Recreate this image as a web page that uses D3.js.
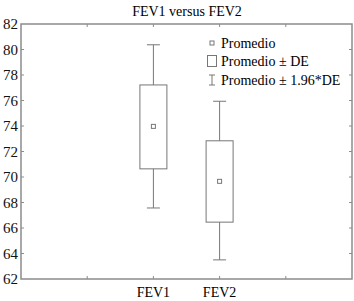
<!DOCTYPE html>
<html>
<head>
<meta charset="utf-8">
<script src="https://cdn.jsdelivr.net/npm/d3@7"></script>
<style>
  body { margin: 0; background: #fff; }
  svg text { font-family: 'Liberation Serif', 'Times New Roman', 'DejaVu Serif', serif; }
</style>
</head>
<body>
<div id="chart-area"></div>
<script>
// data
const categories = ['FEV1', 'FEV2'];
const means = [73.97, 69.66];
const sdLow = [70.64, 66.46];
const sdHigh = [77.22, 72.84];
const ciLow = [67.57, 63.5];
const ciHigh = [80.37, 75.94];
const yTicks = [62, 64, 66, 68, 70, 72, 74, 76, 78, 80, 82];
const legendLabels = ['Promedio', 'Promedio \u00b1 DE', 'Promedio \u00b1 1.96*DE'];

const W = 354, H = 301;
const margin = {left: 21, right: 2, top: 24, bottom: 22};
const width = W - margin.left - margin.right;
const height = H - margin.top - margin.bottom;
const gray = '#8c8c8c';

const svg = d3.select('#chart-area')
  .append('svg')
  .attr('width', W)
  .attr('height', H);

const g = svg.append('g')
  .attr('transform', `translate(${margin.left}, ${margin.top})`);

// scales
const x = d3.scaleLinear().domain([0, categories.length + 3]).range([0, width]);
const pos = i => x(i + 2);
const y = d3.scaleLinear().domain([62, 82]).range([height, 0]);

// title
svg.append('text')
  .attr('x', 187)
  .attr('y', 16)
  .attr('text-anchor', 'middle')
  .attr('font-size', '14px')
  .attr('fill', '#000')
  .text('FEV1 versus FEV2');

// frame
g.append('rect')
  .attr('width', width)
  .attr('height', height)
  .attr('fill', 'none')
  .attr('stroke', gray)
  .attr('stroke-width', 1.5);

// inward ticks
const xt = [1, 2, 3, 4];
g.selectAll('.xt-b').data(xt).enter().append('line')
  .attr('x1', d => x(d)).attr('x2', d => x(d))
  .attr('y1', height).attr('y2', height - 3)
  .attr('stroke', gray);
g.selectAll('.xt-t').data(xt).enter().append('line')
  .attr('x1', d => x(d)).attr('x2', d => x(d))
  .attr('y1', 0).attr('y2', 3)
  .attr('stroke', gray);
g.selectAll('.yt-l').data(yTicks.slice(1, -1)).enter().append('line')
  .attr('x1', 0).attr('x2', 3)
  .attr('y1', d => y(d)).attr('y2', d => y(d))
  .attr('stroke', gray);
g.selectAll('.yt-r').data(yTicks.slice(1, -1)).enter().append('line')
  .attr('x1', width).attr('x2', width - 3)
  .attr('y1', d => y(d)).attr('y2', d => y(d))
  .attr('stroke', gray);

// y labels
g.selectAll('.ylab').data(yTicks).enter().append('text')
  .attr('x', -3)
  .attr('y', d => y(d))
  .attr('dy', '0.35em')
  .attr('text-anchor', 'end')
  .attr('font-size', '15px')
  .attr('fill', '#111')
  .text(d => d);

// x labels
g.selectAll('.xlab').data(categories).enter().append('text')
  .attr('x', (d, i) => pos(i))
  .attr('y', height + 18)
  .attr('text-anchor', 'middle')
  .attr('font-size', '14px')
  .attr('fill', '#000')
  .text(d => d);

// boxes
const boxW = 27, capW = 13, mk = 4;
const line = '#777';
categories.forEach((c, i) => {
  const cx = pos(i);
  // whiskers
  g.append('line')
    .attr('x1', cx).attr('x2', cx)
    .attr('y1', y(ciHigh[i])).attr('y2', y(sdHigh[i]))
    .attr('stroke', line);
  g.append('line')
    .attr('x1', cx).attr('x2', cx)
    .attr('y1', y(sdLow[i])).attr('y2', y(ciLow[i]))
    .attr('stroke', line);
  [ciHigh[i], ciLow[i]].forEach(v => {
    g.append('line')
      .attr('x1', cx - capW / 2).attr('x2', cx + capW / 2)
      .attr('y1', y(v)).attr('y2', y(v))
      .attr('stroke', line);
  });
  g.append('rect')
    .attr('x', cx - boxW / 2)
    .attr('y', y(sdHigh[i]))
    .attr('width', boxW)
    .attr('height', y(sdLow[i]) - y(sdHigh[i]))
    .attr('fill', 'none')
    .attr('stroke', line);
  g.append('rect')
    .attr('x', cx - mk / 2)
    .attr('y', y(means[i]) - mk / 2)
    .attr('width', mk)
    .attr('height', mk)
    .attr('fill', 'none')
    .attr('stroke', line);
});

// legend
const leg = svg.append('g').attr('transform', 'translate(212, 43)');
legendLabels.forEach((t, i) => {
  const ly = i * 18.5;
  if (i === 0) {
    leg.append('rect').attr('x', -2).attr('y', ly - 2).attr('width', 4).attr('height', 4)
      .attr('fill', 'none').attr('stroke', line);
  } else if (i === 1) {
    leg.append('rect').attr('x', -4.5).attr('y', ly - 6).attr('width', 9).attr('height', 11)
      .attr('fill', 'none').attr('stroke', line);
  } else {
    leg.append('line').attr('x1', 0).attr('x2', 0).attr('y1', ly - 5).attr('y2', ly + 5).attr('stroke', line);
    leg.append('line').attr('x1', -3).attr('x2', 3).attr('y1', ly - 5).attr('y2', ly - 5).attr('stroke', line);
    leg.append('line').attr('x1', -3).attr('x2', 3).attr('y1', ly + 5).attr('y2', ly + 5).attr('stroke', line);
  }
  leg.append('text')
    .attr('x', 9)
    .attr('y', ly)
    .attr('dy', '0.35em')
    .attr('font-size', '14px')
    .attr('fill', '#000')
    .text(t);
});
</script>
</body>
</html>
